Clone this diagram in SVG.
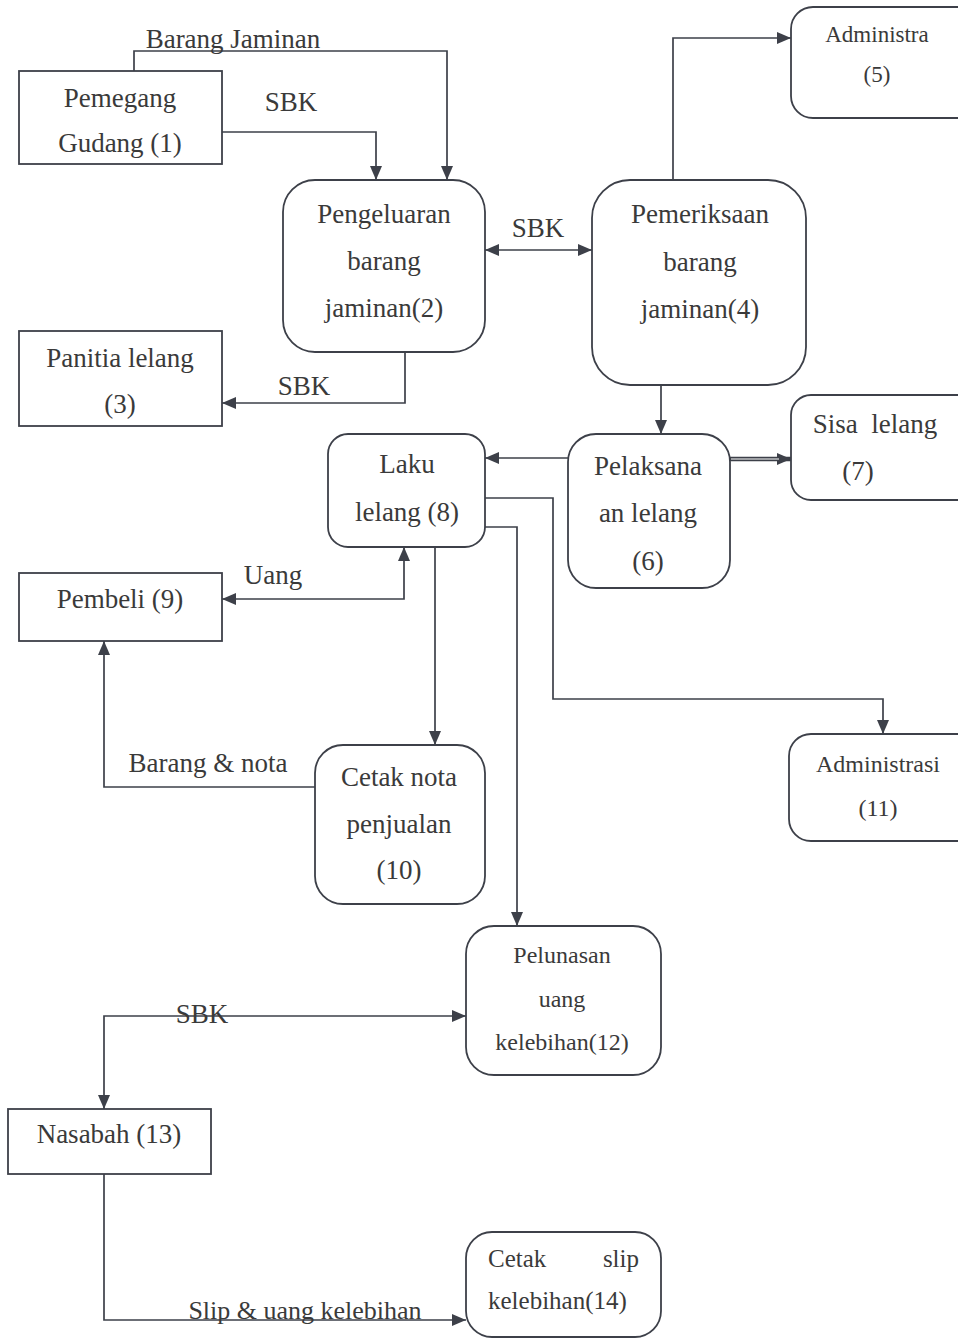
<svg xmlns="http://www.w3.org/2000/svg" width="958" height="1339" viewBox="0 0 958 1339">
<defs>
<marker id="arr" markerUnits="userSpaceOnUse" markerWidth="14" markerHeight="12" refX="14" refY="6" orient="auto-start-reverse" viewBox="0 0 14 12">
<path d="M0,0 L14,6 L0,12 z" fill="#3d4049"/>
</marker>
<style>
.box{fill:#fff;stroke:#3d4049;stroke-width:1.8}
.ln{fill:none;stroke:#3d4049;stroke-width:1.7}
text{font-family:"Liberation Serif","Times New Roman",serif;fill:#3a3a3a;font-size:27px}
.c{text-anchor:middle}
.s{font-size:24px}
</style>
</defs>
<rect width="958" height="1339" fill="#fff"/>

<g id="connectors">
<path class="ln" d="M134,71 V51 H447 V180" marker-end="url(#arr)"/>
<path class="ln" d="M222,132 H376 V180" marker-end="url(#arr)"/>
<path class="ln" d="M485,250 H592" marker-start="url(#arr)" marker-end="url(#arr)"/>
<path class="ln" d="M673,180 V38 H791" marker-end="url(#arr)"/>
<path class="ln" d="M405,352 V403 H222" marker-end="url(#arr)"/>
<path class="ln" d="M661,385 V434" marker-end="url(#arr)"/>
<path class="ln" d="M568,458 H485" marker-end="url(#arr)"/>
<path class="ln" d="M730,459 H791" style="stroke-width:4.5" marker-end="url(#arr)"/>
<path d="M731,459 H779" style="stroke:#fff;stroke-width:1.2;fill:none"/>
<path class="ln" d="M404,547 V599 H222" marker-start="url(#arr)" marker-end="url(#arr)"/>
<path class="ln" d="M435,547 V745" marker-end="url(#arr)"/>
<path class="ln" d="M485,498 H553 V699 H883 V734" marker-end="url(#arr)"/>
<path class="ln" d="M485,527 H517 V926" marker-end="url(#arr)"/>
<path class="ln" d="M315,787 H104 V641" marker-end="url(#arr)"/>
<path class="ln" d="M466,1016 H104 V1109" marker-start="url(#arr)" marker-end="url(#arr)"/>
<path class="ln" d="M104,1174 V1320 H466" marker-end="url(#arr)"/>
<text x="233" y="48" class="c">Barang Jaminan</text>
<text x="291" y="111" class="c">SBK</text>
<text x="538" y="237" class="c">SBK</text>
<text x="304" y="395" class="c">SBK</text>
<text x="273" y="584" class="c">Uang</text>
<text x="208" y="772" class="c">Barang &amp; nota</text>
<text x="202" y="1023" class="c">SBK</text>
<text x="305" y="1319" class="c" style="font-size:26px">Slip &amp; uang kelebihan</text>
</g>

<g id="n1">
<rect class="box" x="19" y="71" width="203" height="93"/>
<text x="120" y="107" class="c">Pemegang</text>
<text x="120" y="152" class="c">Gudang (1)</text>
</g>

<g id="n2">
<rect class="box" x="283" y="180" width="202" height="172" rx="32"/>
<text x="384" y="223" class="c">Pengeluaran</text>
<text x="384" y="270" class="c">barang</text>
<text x="384" y="317" class="c">jaminan(2)</text>
</g>

<g id="n3">
<rect class="box" x="19" y="331" width="203" height="95"/>
<text x="120" y="367" class="c">Panitia lelang</text>
<text x="120" y="413" class="c">(3)</text>
</g>

<g id="n4">
<rect class="box" x="592" y="180" width="214" height="205" rx="38"/>
<text x="700" y="223" class="c">Pemeriksaan</text>
<text x="700" y="271" class="c">barang</text>
<text x="700" y="318" class="c">jaminan(4)</text>
</g>

<g id="n5">
<rect class="box" x="791" y="7" width="190" height="111" rx="22"/>
<text x="877" y="42" class="c" style="font-size:23px">Administra</text>
<text x="877" y="82" class="c" style="font-size:23px">(5)</text>
</g>

<g id="n6">
<rect class="box" x="568" y="434" width="162" height="154" rx="28"/>
<text x="648" y="475" class="c">Pelaksana</text>
<text x="648" y="522" class="c">an lelang</text>
<text x="648" y="570" class="c">(6)</text>
</g>

<g id="n7">
<rect class="box" x="791" y="395" width="190" height="105" rx="20"/>
<text x="875" y="433" class="c" style="white-space:pre">Sisa  lelang</text>
<text x="858" y="480" class="c">(7)</text>
</g>

<g id="n8">
<rect class="box" x="328" y="434" width="157" height="113" rx="20"/>
<text x="407" y="473" class="c">Laku</text>
<text x="407" y="521" class="c">lelang (8)</text>
</g>

<g id="n9">
<rect class="box" x="19" y="573" width="203" height="68"/>
<text x="120" y="608" class="c">Pembeli (9)</text>
</g>

<g id="n10">
<rect class="box" x="315" y="745" width="170" height="159" rx="28"/>
<text x="399" y="786" class="c">Cetak nota</text>
<text x="399" y="833" class="c">penjualan</text>
<text x="399" y="879" class="c">(10)</text>
</g>

<g id="n11">
<rect class="box" x="789" y="734" width="190" height="107" rx="22"/>
<text x="878" y="772" class="c s">Administrasi</text>
<text x="878" y="816" class="c s">(11)</text>
</g>

<g id="n12">
<rect class="box" x="466" y="926" width="195" height="149" rx="28"/>
<text x="562" y="963" class="c s">Pelunasan</text>
<text x="562" y="1007" class="c s">uang</text>
<text x="562" y="1050" class="c s">kelebihan(12)</text>
</g>

<g id="n13">
<rect class="box" x="8" y="1109" width="203" height="65"/>
<text x="109" y="1143" class="c">Nasabah (13)</text>
</g>

<g id="n14">
<rect class="box" x="466" y="1232" width="195" height="105" rx="26"/>
<text x="488" y="1267" style="font-size:25px">Cetak</text>
<text x="639" y="1267" style="font-size:25px;text-anchor:end">slip</text>
<text x="488" y="1309" style="font-size:25px">kelebihan(14)</text>
</g>
</svg>
